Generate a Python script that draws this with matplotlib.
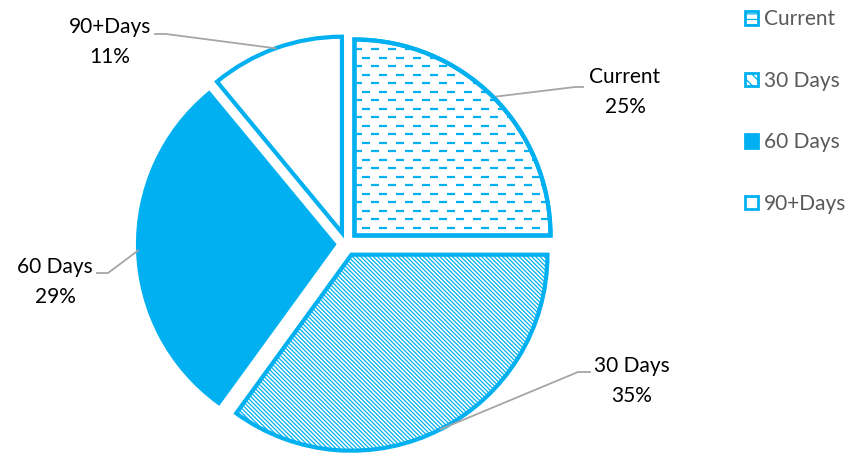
import numpy as np
import matplotlib
matplotlib.use("Agg")
import matplotlib.pyplot as plt
from matplotlib.patches import Patch, Wedge
from matplotlib.collections import LineCollection

categories = ["Current", "30 Days", "60 Days", "90+Days"]
values = [25, 35, 29, 11]

blue = "#00B0F0"
plt.rcParams["font.family"] = ["Lato", "DejaVu Sans"]
plt.rcParams["hatch.linewidth"] = 0.9

W, H = 856, 455
fig = plt.figure(figsize=(W / 100, H / 100), dpi=100)
ax = fig.add_axes([0, 0, 1, 1])

cx, cy, R = 346, H - 244, 196
explode = [12] * 4  # pie offsets in data units here

wedges, _ = ax.pie(values, explode=explode, startangle=90, counterclock=False,
                   center=(cx, cy), radius=R,
                   colors=["white", "white", blue, "white"],
                   wedgeprops=dict(edgecolor=blue, linewidth=3))
wedges[1].set_hatch("\\" * 8)

# dashed horizontal pattern for "Current"
w0 = wedges[0]
wx, wy = w0.center
segs = []
for i, y in enumerate(np.arange(wy - R, wy + R, 8.5)):
    off = (i % 2) * 8.5
    for x in np.arange(wx - R + off, wx + R, 17):
        segs.append([(x, y), (x + 8, y)])
lc = LineCollection(segs, colors=blue, linewidths=1.6, zorder=2)
lc.set_clip_path(w0)
ax.add_collection(lc)
ax.add_patch(Wedge(w0.center, w0.r, w0.theta1, w0.theta2, fill=False,
                   edgecolor=blue, linewidth=3, zorder=3))

ax.set_xlim(0, W)
ax.set_ylim(0, H)
ax.axis("off")

# data labels with leader lines
label_pos = [(625, H - 92), (632, H - 381), (55, H - 282), (110, H - 42)]
line_ends = [[(575, H - 87), (583, H - 87)],
             [(578, H - 372), (590, H - 372)],
             [(108, H - 273), (97, H - 273)],
             [(166, H - 34), (155, H - 34)]]
for w, name, v, (tx, ty), ends in zip(wedges, categories, values, label_pos, line_ends):
    mid = np.deg2rad((w.theta1 + w.theta2) / 2)
    sx = w.center[0] + w.r * np.cos(mid)
    sy = w.center[1] + w.r * np.sin(mid)
    pts = [(sx, sy)] + ends
    ax.plot([p[0] for p in pts], [p[1] for p in pts], color="#A6A6A6", lw=1.3, zorder=1)
    ax.text(tx, ty, f"{name}\n{v}%", ha="center", va="center", fontsize=15,
            color="black", linespacing=1.65)

handles = [Patch(facecolor="white", edgecolor=blue, hatch="---", linewidth=2),
           Patch(facecolor="white", edgecolor=blue, hatch="\\\\\\", linewidth=2),
           Patch(facecolor=blue, edgecolor=blue, linewidth=2),
           Patch(facecolor="white", edgecolor=blue, linewidth=2)]
leg = fig.legend(handles, categories, loc="upper left", bbox_to_anchor=(737 / W, 1 - 1 / H),
                 frameon=False, fontsize=15, labelspacing=1.99, handlelength=0.6,
                 handleheight=0.6, handletextpad=0.3, borderaxespad=0)
for t in leg.get_texts():
    t.set_color("#595959")

fig.savefig("out.png", dpi=100)
